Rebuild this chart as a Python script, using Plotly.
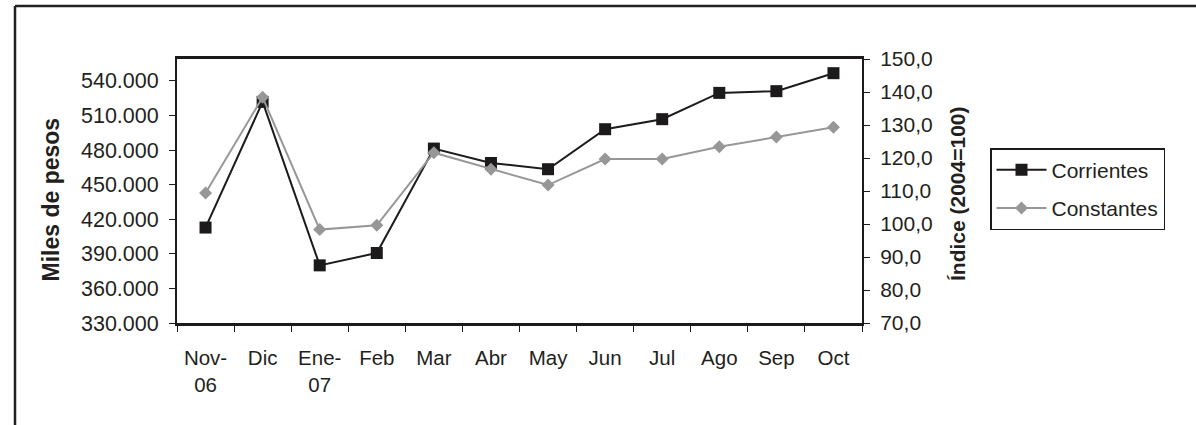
import plotly.graph_objects as go

# ---- data ----
categories = ["Nov-06", "Dic", "Ene-07", "Feb", "Mar", "Abr", "May",
              "Jun", "Jul", "Ago", "Sep", "Oct"]
tick_labels = ["Nov-<br>06", "Dic", "Ene-<br>07", "Feb", "Mar", "Abr", "May",
               "Jun", "Jul", "Ago", "Sep", "Oct"]
corrientes = [412800, 521800, 380000, 390700, 481300, 468800, 463400,
              498100, 506800, 529600, 531100, 546700]   # miles de pesos
constantes = [109.4, 138.4, 98.3, 99.6, 121.6, 116.6, 111.8,
              119.7, 119.7, 123.4, 126.4, 129.3]          # índice 2004=100
series_names = ["Corrientes", "Constantes"]
left_title = "Miles de pesos"
right_title = "Índice (2004=100)"

FONT = "Liberation Sans, Arial, sans-serif"
TXT = "#231f20"

W, H = 1196, 425
L, R, T, B = 177, 862, 59, 323

def px_x(p):
    return (p - L) / (R - L)

def px_y(p):
    return (B - p) / (B - T)

fig = go.Figure()
fig.add_trace(go.Scatter(
    x=categories, y=corrientes, name=series_names[0], yaxis="y",
    mode="lines+markers", legendgroup="a",
    line=dict(color="#1c1a1b", width=2),
    marker=dict(symbol="square", size=12, color="#1c1a1b"),
))
fig.add_trace(go.Scatter(
    x=categories, y=constantes, name=series_names[1], yaxis="y2",
    mode="lines+markers", legendgroup="b",
    line=dict(color="#979797", width=2),
    marker=dict(symbol="diamond", size=10, color="#979797"),
))

fig.update_layout(
    width=W, height=H,
    margin=dict(l=L, r=W - R, t=T, b=H - B, pad=0),
    paper_bgcolor="white", plot_bgcolor="white",
    separators=",.",
    font=dict(family=FONT, size=21, color=TXT),
    showlegend=True,
    legend=dict(
        x=px_x(990), y=px_y(148), xanchor="left", yanchor="top",
        bordercolor="#1c1a1b", borderwidth=1.5, bgcolor="white",
        font=dict(family=FONT, size=21, color=TXT),
        itemwidth=50, tracegroupgap=8,
    ),
    xaxis=dict(
        type="category", tickmode="array", tickvals=categories, ticktext=tick_labels,
        tickson="boundaries", ticks="outside", ticklen=6, tickwidth=1.3,
        tickcolor="#1c1a1b", showline=True, linecolor="#1c1a1b", linewidth=2.5,
        mirror=True, showgrid=False, zeroline=False, automargin=False,
        ticklabelstandoff=15, tickangle=0,
        tickfont=dict(family=FONT, size=20.5, color=TXT),
        range=[-0.5, len(categories) - 0.5],
    ),
    yaxis=dict(
        range=[330000, 559000], tickmode="linear", tick0=330000, dtick=30000,
        tickformat=",d", ticks="outside", ticklen=6, tickwidth=1.3,
        tickcolor="#1c1a1b", showline=True, linecolor="#1c1a1b", linewidth=2,
        showgrid=False, zeroline=False, automargin=False, ticklabelstandoff=6,
        tickfont=dict(family=FONT, size=21.5, color=TXT),
    ),
    yaxis2=dict(
        range=[70, 150], tickmode="linear", tick0=70, dtick=10,
        tickformat=".1f", overlaying="y", side="right", anchor="x",
        ticks="outside", ticklen=6, tickwidth=1.3, tickcolor="#1c1a1b",
        showline=True, linecolor="#1c1a1b", linewidth=2,
        showgrid=False, zeroline=False, automargin=False, ticklabelstandoff=6,
        tickfont=dict(family=FONT, size=21, color=TXT),
    ),
    yaxis3=dict(
        range=[70, 150], tickmode="linear", tick0=70, dtick=10,
        overlaying="y", side="right", anchor="x",
        ticks="inside", ticklen=5, tickwidth=1.3, tickcolor="#1c1a1b",
        showline=False, showticklabels=False, showgrid=False, zeroline=False,
        automargin=False,
    ),
    annotations=[
        dict(text="<b>" + left_title + "</b>", textangle=-90,
             xref="paper", yref="paper", x=px_x(50.5), y=px_y(200),
             xanchor="center", yanchor="middle", showarrow=False,
             font=dict(family=FONT, size=23, color=TXT)),
        dict(text="<b>" + right_title + "</b>", textangle=-90,
             xref="paper", yref="paper", x=px_x(957), y=px_y(194),
             xanchor="center", yanchor="middle", showarrow=False,
             font=dict(family=FONT, size=21, color=TXT)),
    ],
    shapes=[
        dict(type="line", xref="paper", yref="paper",
             x0=px_x(15), x1=px_x(1205), y0=px_y(6), y1=px_y(6),
             line=dict(color="#222", width=2.5)),
        dict(type="line", xref="paper", yref="paper",
             x0=px_x(15), x1=px_x(15), y0=px_y(6), y1=px_y(440),
             line=dict(color="#222", width=2.5)),
    ],
)

fig.write_html("out.html",
               config={"displayModeBar": False},
               post_script="document.body.style.margin='0';document.body.style.overflow='hidden';")
